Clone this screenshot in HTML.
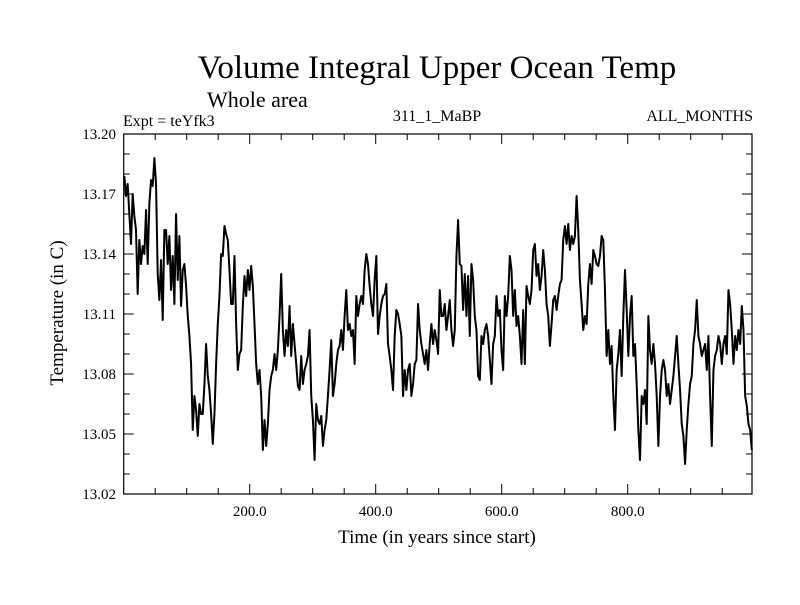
<!DOCTYPE html>
<html><head><meta charset="utf-8"><style>
body{margin:0;background:#fff}
svg text{font-family:"Liberation Serif",serif;fill:#000}
</style></head><body>
<svg id="chart" width="800" height="600" xmlns="http://www.w3.org/2000/svg">
<text x="437" y="78" font-size="33" text-anchor="middle">Volume Integral Upper Ocean Temp</text>
<text x="207" y="107" font-size="22">Whole area</text>
<text x="123" y="126" font-size="16">Expt = teYfk3</text>
<text x="437" y="121" font-size="16" text-anchor="middle">311_1_MaBP</text>
<text x="753" y="121" font-size="16" text-anchor="end">ALL_MONTHS</text>
<text transform="translate(63,313) rotate(-90)" font-size="19" text-anchor="middle">Temperature (in C)</text>
<text x="437" y="543" font-size="19" text-anchor="middle">Time (in years since start)</text>
<g id="axes"></g>
<g id="plot"></g>
</svg>
<script>
const yTickLabels=["13.02","13.05","13.08","13.11","13.14","13.17","13.20"];
const xTickLabels=["200.0","400.0","600.0","800.0"];
const startYear=1, yearStep=2.649;
const temps1=[13.179,13.169,13.175,13.160,13.145,13.170,13.159,13.152,13.120,13.147,13.135,13.144,13.140,13.162,13.135,13.165,13.177,13.174,13.188,13.175,13.130,13.117,13.137,13.107,13.152,13.152,13.135,13.149,13.122,13.139,13.115,13.160,13.127,13.149,13.114,13.132,13.135,13.124,13.109,13.099,13.085,13.052,13.069,13.062,13.049,13.065,13.060,13.060,13.075,13.095,13.079,13.072,13.060,13.045,13.060,13.085,13.105,13.119,13.140,13.139,13.154,13.150,13.147,13.132,13.115,13.115,13.139,13.105,13.082,13.090,13.092,13.114,13.129,13.119,13.132,13.122,13.134,13.124,13.105,13.085,13.075,13.082,13.069,13.042,13.057,13.044,13.055,13.072,13.079,13.082,13.090,13.082,13.092,13.109,13.130,13.102];
const temps2=[13.089,13.102,13.094,13.114,13.089,13.105,13.095,13.085,13.074,13.072,13.089,13.075,13.082,13.085,13.089,13.102,13.069,13.057,13.037,13.065,13.057,13.055,13.059,13.044,13.052,13.057,13.069,13.082,13.097,13.069,13.075,13.085,13.092,13.094,13.102,13.092,13.109,13.122,13.102,13.105,13.099,13.102,13.085,13.119,13.109,13.115,13.119,13.115,13.132,13.140,13.135,13.124,13.115,13.109,13.127,13.139,13.100,13.109,13.115,13.119,13.120,13.125,13.095,13.089,13.082,13.072,13.099,13.112,13.110,13.105,13.099,13.069,13.082,13.072,13.082,13.085,13.069,13.075,13.085,13.087,13.115,13.102,13.095,13.090,13.085,13.092,13.082,13.095,13.105,13.095,13.102,13.097,13.090,13.122,13.109];
const temps3=[13.109,13.115,13.102,13.109,13.117,13.102,13.094,13.102,13.139,13.157,13.135,13.134,13.112,13.130,13.109,13.129,13.099,13.135,13.127,13.109,13.102,13.079,13.077,13.099,13.095,13.102,13.105,13.099,13.087,13.075,13.095,13.099,13.119,13.109,13.112,13.092,13.082,13.119,13.109,13.119,13.139,13.132,13.109,13.122,13.104,13.109,13.099,13.085,13.112,13.085,13.124,13.119,13.115,13.122,13.142,13.145,13.129,13.135,13.122,13.129,13.142,13.132,13.115,13.109,13.094,13.105,13.117,13.119,13.112,13.119,13.125,13.127,13.147,13.154,13.145,13.155,13.142,13.149,13.145,13.149,13.169,13.152,13.127,13.115,13.102,13.109,13.105,13.125,13.135,13.125,13.142,13.139,13.135,13.134,13.139,13.149];
const temps4=[13.147,13.122,13.089,13.102,13.085,13.094,13.069,13.052,13.082,13.090,13.102,13.079,13.109,13.132,13.112,13.089,13.109,13.119,13.089,13.095,13.075,13.052,13.037,13.069,13.065,13.072,13.055,13.109,13.092,13.085,13.095,13.085,13.069,13.044,13.069,13.082,13.087,13.082,13.069,13.075,13.065,13.072,13.079,13.089,13.099,13.085,13.072,13.055,13.049,13.035,13.052,13.065,13.075,13.079,13.095,13.102,13.117,13.099,13.095,13.089,13.092,13.095,13.082,13.099,13.069,13.044,13.082,13.089,13.092,13.099,13.095,13.085,13.095,13.099,13.090,13.122,13.115,13.102,13.085,13.099,13.092,13.102,13.095,13.114,13.102,13.069,13.064,13.055,13.052,13.042];
const temps=temps1.concat(temps2,temps3,temps4);

const L=123.7,R=752,T=134,B=494,X0=0,X1=(R-L)/0.63,Y0=13.02,Y1=13.20;
const xs=v=>L+(v-X0)/(X1-X0)*(R-L);
const ys=v=>B-(v-Y0)/(Y1-Y0)*(B-T);
const NS="http://www.w3.org/2000/svg";
const axes=document.getElementById('axes'),plot=document.getElementById('plot');
function mk(tag,attrs,parent){const e=document.createElementNS(NS,tag);for(const k in attrs)e.setAttribute(k,attrs[k]);parent.appendChild(e);return e;}

const frame=mk('rect',{x:L,y:T,width:R-L,height:B-T,fill:'none',stroke:'#000','stroke-width':1.2},axes);



for(let i=0;i<=18;i++){
  const v=Y0+i*0.01,y=ys(v),len=(i%3===0)?10:6;
  const t1=mk('line',{x1:L,x2:L+len,y1:y,y2:y,stroke:'#000'},axes);
  
  
  const t2=mk('line',{x1:R,x2:R-len,y1:y,y2:y,stroke:'#000'},axes);
  
  
}
yTickLabels.forEach(s=>{
  const t=mk('text',{x:116,y:ys(parseFloat(s))+5,'font-size':15,'text-anchor':'end'},axes);
  t.textContent=s;
  
  
});
for(let v=50;v<X1;v+=50){
  const x=xs(v),len=(v%200===0)?10:6;
  const t1=mk('line',{x1:x,x2:x,y1:B,y2:B-len,stroke:'#000'},axes);
  
  
  const t2=mk('line',{x1:x,x2:x,y1:T,y2:T+len,stroke:'#000'},axes);
  
  
}
xTickLabels.forEach(s=>{
  const t=mk('text',{x:xs(parseFloat(s)),y:516,'font-size':15,'text-anchor':'middle'},axes);
  t.textContent=s;
  
  
});
const pts=temps.map((v,i)=>xs(startYear+i*yearStep).toFixed(2)+','+ys(v).toFixed(2)).join(' ');
const line=mk('polyline',{points:pts,fill:'none',stroke:'#000','stroke-width':2,'stroke-linejoin':'round'},plot);


</script>
</body></html>
